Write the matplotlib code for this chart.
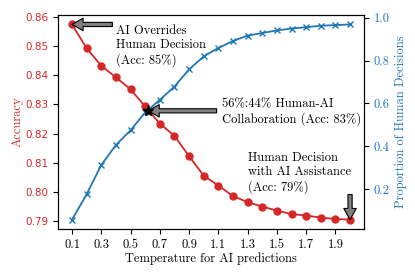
import numpy
import matplotlib
matplotlib.use('Agg')
import matplotlib.pyplot as plt

plt.rcParams['font.family'] = 'serif'
plt.rcParams['font.serif'] = ['cmr10']
plt.rcParams['mathtext.fontset'] = 'cm'
plt.rcParams['axes.formatter.use_mathtext'] = True

temperature = [0.1, 0.2, 0.3, 0.4, 0.5, 0.6, 0.7, 0.8, 0.9, 1.0,
               1.1, 1.2, 1.3, 1.4, 1.5, 1.6, 1.7, 1.8, 1.9, 2.0]
accuracy = [0.8575, 0.8493, 0.8433, 0.8393, 0.8352, 0.8293, 0.8234, 0.8192, 0.8122, 0.8055,
            0.8021, 0.7985, 0.7964, 0.7949, 0.7935, 0.7923, 0.7918, 0.7911, 0.7906, 0.7904]
human_prop = [0.058, 0.176, 0.313, 0.406, 0.475, 0.558, 0.617, 0.679, 0.759, 0.820,
              0.859, 0.892, 0.917, 0.929, 0.941, 0.950, 0.956, 0.963, 0.966, 0.969]
xticks = [0.1, 0.3, 0.5, 0.7, 0.9, 1.1, 1.3, 1.5, 1.7, 1.9]
acc_ticks = [0.79, 0.80, 0.81, 0.82, 0.83, 0.84, 0.85, 0.86]
prop_ticks = [0.2, 0.4, 0.6, 0.8, 1.0]

cross_point = (0.62, 0.8278)

red = '#d62728'
blue = '#1f77b4'
fs = 9

fig = plt.figure(figsize=(4.15, 2.77), dpi=100)
ax = fig.add_axes([0.140, 0.172, 0.737, 0.775])
ax2 = ax.twinx()

ax.plot(temperature, accuracy, color=red, marker='o', markersize=5, linewidth=1.3)
ax2.plot(temperature, human_prop, color=blue, marker='x', markersize=5, linewidth=1.3)
ax.plot(*cross_point, marker='*', color='black', markersize=8, zorder=5)

ax.set_xticks(xticks)
ax.set_xticklabels([str(t) for t in xticks], fontsize=fs)
ax.set_xlabel('Temperature for AI predictions', fontsize=fs, labelpad=1)
ax.set_yticks(acc_ticks)
ax.set_yticklabels(['%.2f' % t for t in acc_ticks], fontsize=7.5, family='DejaVu Sans')
ax.set_ylabel('Accuracy', color=red, fontsize=fs, labelpad=1)
ax.tick_params(axis='y', labelcolor=red)
ax2.set_ylabel('Proportion of Human Decisions', color=blue, fontsize=fs)
ax2.set_yticks(prop_ticks)
ax2.set_yticklabels([str(t) for t in prop_ticks], fontsize=fs)
ax2.tick_params(axis='y', labelcolor=blue)
ax.set_zorder(ax2.get_zorder() + 1)
ax.patch.set_visible(False)

arrow = dict(facecolor='gray', edgecolor='black', width=3, headwidth=9, headlength=8, shrink=0.0, linewidth=0.8)

ax.annotate('', xy=(temperature[0], accuracy[0]), xytext=(0.376, accuracy[0]), arrowprops=arrow)
ax.text(0.40, 0.8572, 'AI Overrides\nHuman Decision\n(Acc: 85%)', fontsize=fs, va='top', ha='left')

ax.annotate('', xy=cross_point, xytext=(1.088, cross_point[1]), arrowprops=arrow)
ax.text(1.125, 0.8274, '56%:44% Human-AI\nCollaboration (Acc: 83%)', fontsize=fs, va='center', ha='left')

ax.annotate('', xy=(temperature[-1], accuracy[-1]), xytext=(2.0, 0.7990), arrowprops=arrow)
ax.text(1.305, 0.8137, 'Human Decision\nwith AI Assistance\n(Acc: 79%)', fontsize=fs, va='top', ha='left')

fig.savefig('out.png', dpi=100)
